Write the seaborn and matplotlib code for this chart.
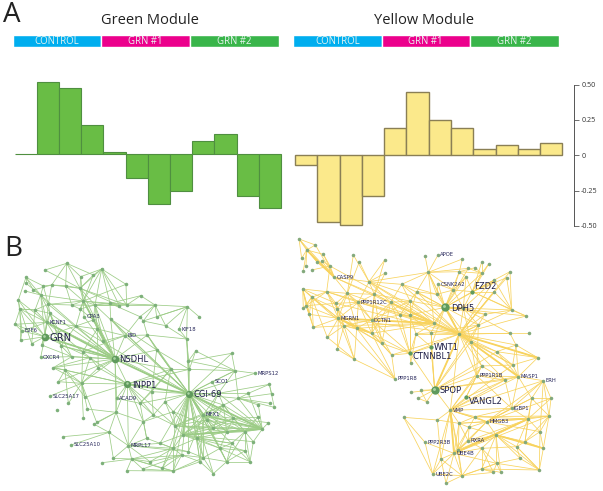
import matplotlib
matplotlib.use("Agg")
import matplotlib.pyplot as plt
import pandas as pd
import seaborn as sns

# --- bar values ---
samples = list(range(12))
green_values = [0.002, 0.507, 0.47, 0.209, 0.014, -0.169, -0.347, -0.256, 0.092, 0.146, -0.291, -0.376]
yellow_values = [-0.068, -0.469, -0.495, -0.286, 0.192, 0.448, 0.246, 0.195, 0.042, 0.073, 0.042, 0.085]

group_names = ["CONTROL", "GRN #1", "GRN #2"]
group_colors = ["#00aeef", "#ec008c", "#39b54a"]
y_ticks = [-0.5, -0.25, 0, 0.25, 0.5]
y_tick_labels = ["-0.50", "-0.25", "0", "0.25", "0.50"]

green_x = [200,135,305,280,242,78,78,130,155,378,240,100,75,55,122,197,250,145,215,285,
           330,358,380,422,465,420,60,105,150,240,252,140,45,228,280,332,430,470,497,562,
           597,537,66,135,62,95,125,183,122,248,292,310,375,442,345,270,215,160,195,295,
           382,245,175,150,255,205,172,262,250,350,348,290,420,455,512,565,568,587,560,470,
           567,695,705,765,637,655,715,745,808,815,810,823,775,610,670,700,773,805,787,525,
           548,640,620,680,735,760,695,735,750,680,640,610,565,520,480,440,545,520,487,450,
           395,340,307,380,428,385,327,213,190,283,495,520,590,660,600,460,430]
green_y = [85,105,102,120,125,127,145,153,150,148,160,165,168,195,180,152,198,208,210,210,
           205,212,210,182,210,245,222,225,235,222,245,262,268,273,255,252,258,245,272,215,
           245,283,288,305,316,326,330,332,367,350,282,318,302,300,372,368,365,398,405,398,
           447,445,440,483,487,505,525,522,548,490,532,562,505,470,403,378,403,348,312,345,
           476,355,407,415,440,475,490,475,448,476,505,517,510,540,510,550,547,563,582,572,
           600,580,555,590,590,620,625,647,680,680,716,668,650,640,625,610,660,708,700,680,
           672,670,683,707,702,632,592,630,605,568,500,530,610,640,680,540,560]
green_links = {
    80: [54,60,75,76,74,84,85,93,94,95,99,100,101,102,103,104,112,113,114,130,131,132,133,111,109,117,110,134,78,79,72,73,82,81,86,87,83,98,35,19,33,31,52,53,116,118],
    54: [43,31,17,10,16,19,34,50,51,52,49,55,56,57,59,60,61,62,53,69,70,35,79,74,30,33,28,47],
    60: [61,59,69,70,72,73,99,64,55,135,136,125,58,57,74,76],
    16: [2,3,4,10,15,18,19,20,21,29,30,33,17,14,9],
    2: [3,4,9,20,21,22,10,19],
    98: [93,94,95,96,97,99,100,101,102,103,104,86,87,92,85,105],
    100: [99,101,102,103,104,93,94,95,105,106,113,114,107,133],
    93: [94,95,101,102,103,104,106,99,111,112,134,109],
    104: [94,95,96,101,102,105,106,107,108,109],
    14: [5,6,7,11,12,17,27,31,43,28,33],
    31: [43,27,28,32,33,42,47,13,26,49],
    43: [17,26,42,44,45,46,48,13,32,55,33],
    10: [0,1,4,8,15,19,21,22,3],
    61: [49,55,57,58,62,63,64,65,67,68,59,71],
    125: [120,121,126,113,112,115,114,70,119],
    120: [118,119,121,122,123,124,116,113,117],
    113: [112,114,115,116,117,118,119,132,99],
    111: [109,110,112,116,132,134,133,117],
    39: [24,40,41,37,38,78,36],
    24: [23,25,36,37,38,22,20],
    76: [75,77,78,74,79,82],
    82: [81,83,84,85,86,77],
    88: [87,89,85,91],
    86: [87,89,90,91,92,94],
    108: [105,106,107,109,133],
    52: [35,53,50,51,49,25],
    74: [53,79,130,73,72],
    126: [127,128,129,121],
    70: [67,71,129,126,69],
    36: [25,53,38],
    5: [6,11,13,7],
    26: [13,32,27,44,45],
    58: [57,47,65,62,64],
    20: [21,22,23,25,35],
}
green_links_2 = {
    19: [20,34,29,50,51,21],
    34: [29,33,50],
    50: [51,59,49,33],
    55: [49,56,57,59],
    56: [47,46,48,57,28],
    85: [84,94,93,102],
    94: [95,101,102,103,99],
    95: [96,97,101,103],
    99: [101,102,103,131,130,135],
    131: [130,101,132,136],
    132: [101,103,106,133,134],
    133: [103,106,107,109],
    134: [116,117,110],
    109: [106,107,110],
    116: [117,118,119,124],
    47: [33,28,49],
    117: [123,124,118],
    136: [70,115,125,135],
    135: [72,73,130],
    72: [69,73,115],
    78: [41,53,75,38],
    79: [53,35,73],
    75: [77,81,82],
    42: [13,32,44],
    27: [26,28,17,45],
    28: [17,46,47],
    17: [18,8,7],
    18: [29,15,21],
    0: [1,3,15,4,8],
    8: [7,15,11],
    22: [23,9,21],
}
green_thick = [(54,80),(43,54),(60,80),(80,100),(80,98),(93,98),(100,98),(16,54),(80,93),(31,54)]
green_hubs = {"GRN": 43, "NSDHL": 54, "INPP1": 60, "CGI-69": 80}
green_hub_sizes = [5.5, 5.5, 5.2, 5.2]
green_hub_dx = [13, 13, 14, 15]
green_hub_dy = [5, 3, 3, 3]
green_minor = {"KCNF1": 31, "OPA3": 30, "E2F6": 42, "BID": 52, "KIF18": 41, "CXCR4": 48,
               "SLC25A17": 63, "ACAD9": 69, "SCO1": 84, "MRPS12": 83, "MFX1": 93,
               "SLC25A10": 127, "MRPL17": 125}

# --- yellow network ---
yellow_x = [27,50,76,100,35,82,95,120,48,40,65,133,190,208,284,285,237,38,65,110,
            172,253,335,380,405,415,444,517,445,508,528,535,555,575,596,575,660,650,613,612,
            547,490,440,465,520,585,665,708,205,302,360,330,138,142,48,40,58,145,245,162,
            70,112,200,245,275,305,360,362,142,193,315,378,423,432,360,508,542,565,423,620,
            660,716,678,668,743,560,575,645,685,760,434,392,362,385,410,528,481,725,783,665,
            555,590,341,442,777,714,750,537,507,618,535,405,680,705,760,492,453,575,620,575,
            632,748,516,428,468,610,690,505]
yellow_y = [12,45,30,58,70,82,78,93,92,108,105,127,60,80,75,115,140,162,187,170,
            175,178,148,170,62,112,60,72,148,110,125,100,98,82,87,115,110,128,135,170,
            170,165,178,217,220,238,225,243,202,202,198,240,205,222,212,220,238,250,255,272,
            277,307,280,295,325,360,355,385,343,373,432,297,293,265,240,297,320,270,335,350,
            295,295,330,390,368,422,393,435,425,437,464,466,472,490,500,487,526,490,490,520,
            545,560,547,555,543,552,590,577,565,600,618,622,635,620,640,655,672,640,685,702,
            712,705,722,717,745,712,670,645]
yellow_links = {
    43: [25,28,29,30,31,22,23,40,41,42,44,45,46,47,73,75,76,77,16,74,50,72,78,35,38],
    75: [44,45,73,74,50,49,48,57,52,16,25,22,23,82,83,84,87,88,85,86,79,80,76,90,96,72,71,77,46,47,36,37,38,39,66,65],
    73: [16,21,48,49,50,51,57,59,62,63,11,7,20,19,74,71,25],
    90: [78,72,76,77,85,86,79,91,92,93,94,66,96,88,87],
    96: [85,86,87,88,89,99,100,101,103,108,115,123,116,122,127,95,83],
    101: [99,100,104,105,106,107,108,109,110,97,98,89,96,115],
    115: [107,108,109,110,116,117,118,122,123,124,127,105,104],
    105: [97,98,99,100,104,106,108,109,110,113,112,127],
    109: [112,113,114,117,118,119,120,121,126,110],
    118: [119,120,121,122,125,126,117],
    122: [117,119,123,124,127,116,125],
    102: [103,123,111],
    111: [123,115],
    57: [17,18,19,20,48,52,53,54,56,58,59,60,61,62,63,64,68,69],
    58: [48,20,21,49,50,59,62,63,64,65,66,51],
    66: [50,51,64,65,63,67,71,74,49],
    70: [63,62,59,65,69],
    11: [0,1,3,5,6,7,16,20,21,2],
    0: [1,4,5,2],
    1: [2,3,5,8,9,4],
    7: [3,6,10,19],
    17: [18,19,54,55,56,60,52],
    19: [20,52,53,48,18],
    16: [12,13,14,15,21,22,25,48,49],
    25: [22,23,24,26,27,29,31,42,41],
    29: [27,30,32,35,41],
    40: [33,34,35,36,37,38,39,41,46,47,30],
    46: [36,37,38,45,47,39],
    80: [81,82,75,44],
    88: [83,84,82,87,89,99],
    89: [97,98,99,104,106],
    99: [97,100,101,87,85],
    114: [106,113,121,104],
    121: [112,126,106],
    94: [93,91],
    69: [59,68,61,62],
    50: [22,23,49,51,74,21],
    78: [72,66,90,71],
    84: [82,83],
}
yellow_links_2 = {
    54: [55,56,60,52,18,19],
    18: [55,56,60,59,53,61],
    53: [52,59,48,20,62],
    59: [60,61,62,63,68],
    62: [63,64,48,20],
    63: [64,65,48,49,21],
    64: [65,49,21],
    21: [20,48,14,15,49],
    20: [48,12,13],
    52: [48,59,20],
    100: [104,107,108],
    107: [108,110,127,109],
    108: [127,103,110],
    110: [127,117],
    117: [119,125],
    119: [120,125,121],
    113: [112,104,97],
    112: [126,117,121],
    97: [98,104,88],
    106: [104,113],
    98: [104],
    103: [116],
    116: [124,123],
    85: [86,87,88,76,77,95],
    86: [87,83,76],
    95: [86,87],
    83: [82,79,76],
    79: [76,82,84,88],
    76: [77,44],
    77: [44,45,72],
    72: [71,74],
    71: [74,67],
    44: [41,30,35,38,45],
    35: [33,34,31,32],
    41: [42,28,30],
    42: [23,28,22],
    49: [22,74,51],
    74: [51,23],
}
yellow_thick = [(43,75),(73,75),(75,84),(75,88),(57,63),(43,44),(57,73),(105,115),(109,114),(1,11),(90,75),(96,115)]
yellow_hubs = {"DPH5": 43, "SPOP": 90, "WNT1": 78, "CTNNBL1": 66, "FZD2": 40, "VANGL2": 95}
yellow_hub_sizes = [6, 6, 3, 3, 3, 3]
yellow_hub_dx = [17, 16, 7, 8, 5, 9]
yellow_hub_dy = [3, 3, 2, 10, -15, 11]
yellow_minor = {"APOE": 26, "CASP9": 11, "CSNK2A2": 28, "PPP1R12C": 48, "MGRN1": 57, "DCTN1": 58,
                "PPP1R8": 70, "PPP1R1B": 85, "MASP1": 88, "ERH": 89, "VMP": 96, "IGBP1": 99,
                "HMGB3": 101, "PPP2R3B": 111, "RXRA": 110, "UBE4B": 115, "UBE2C": 123}

W, H = 603, 491
sns.set_style("white")
plt.rcParams["font.family"] = ["Open Sans", "DejaVu Sans"]
fig = plt.figure(figsize=(W / 100, H / 100), dpi=100)


def px_axes(x0, y0, x1, y1):
    # axes box given in reference pixels, y measured from the top
    ax = fig.add_axes([x0 / W, 1 - y1 / H, (x1 - x0) / W, (y1 - y0) / H])
    ax.patch.set_alpha(0)
    return ax


def strip(x0, x1):
    ax = px_axes(x0, 35, x1, 47)
    sns.barplot(x=group_names, y=[1, 1, 1], hue=group_names, palette=group_colors,
                width=1, saturation=1, legend=False, ax=ax)
    ax.set_ylim(0, 1)
    ax.set_xlim(-0.5, 2.5)
    for i, name in enumerate(group_names):
        ax.text(i, 0.46, name, color="#e8f4f0", fontsize=6.9, ha="center", va="center")
    ax.axis("off")


def bars(values, box, xmax, fill, edge, lw):
    ax = px_axes(*box)
    sns.barplot(x=samples, y=values, width=1, color=fill, edgecolor=edge,
                linewidth=lw, saturation=1, ax=ax)
    ax.set_xlim(-0.5, xmax)
    ax.set_ylim(-0.5, 0.5)
    for p in ax.patches:
        p.set_clip_on(False)
    ax.set_xlabel("")
    ax.set_ylabel("")
    return ax


def edge_frame(pairs, xs, ys):
    rows = []
    for n, (a, b) in enumerate(pairs):
        rows.append({"edge": n, "x": xs[a], "y": ys[a]})
        rows.append({"edge": n, "x": xs[b], "y": ys[b]})
    return pd.DataFrame(rows)


def network(box, xs, ys, link_tables, thick, hubs, hub_sizes, hub_dx, hub_dy, minor, line_color, node_color):
    ax = px_axes(*box)
    pairs = [(a, b) for links in link_tables for a, targets in links.items() for b in targets]
    sns.lineplot(data=edge_frame(pairs, xs, ys), x="x", y="y", units="edge", estimator=None,
                 sort=False, color=line_color, linewidth=0.55, ax=ax)
    sns.lineplot(data=edge_frame(thick, xs, ys), x="x", y="y", units="edge", estimator=None,
                 sort=False, color=line_color, linewidth=1.3, ax=ax)
    nodes = pd.DataFrame({"x": xs, "y": ys})
    sns.scatterplot(data=nodes, x="x", y="y", s=6.5, color=node_color, linewidth=0, zorder=3, ax=ax)
    for (name, i), size, dx, dy in zip(hubs.items(), hub_sizes, hub_dx, hub_dy):
        ax.plot(xs[i], ys[i], "o", ms=size, color="#5f9a5c", mec="none", zorder=4)
        if size > 4:
            ax.plot(xs[i] - 2, ys[i] - 3, "o", ms=size * 0.35, color="#a9d3a2", mec="none", zorder=5)
        fs = 7.2 if name == "GRN" else 6
        ax.text(xs[i] + dx, ys[i] + dy, name, fontsize=fs, color="#1e1e46", family="DejaVu Sans",
                va="center", zorder=6)
    for name, i in minor.items():
        ax.text(xs[i] + 7, ys[i], name, fontsize=3.75, color="#26265a", family="DejaVu Sans",
                va="center", zorder=6)
    ax.set_xlim(0, 870)
    ax.set_ylim(768, 0)
    ax.axis("off")


# --- panel A ---
strip(12.5, 279)
strip(293, 558.5)

ax_g = bars(green_values, (14.7, 83.3, 281, 225.3), 11.5, "#69bd45", "#4f8f40", 0.8)
ax_y = bars(yellow_values, (295, 84.5, 573.5, 226), 12.0, "#fbe98b", "#8a7f55", 1.0)

ax_g.axis("off")
for side in ["left", "bottom", "top"]:
    ax_y.spines[side].set_visible(False)
ax_y.spines["right"].set_visible(True)
ax_y.spines["right"].set_color("#555555")
ax_y.spines["right"].set_linewidth(0.7)
ax_y.yaxis.tick_right()
ax_y.set_yticks(y_ticks)
ax_y.set_yticklabels(y_tick_labels)
ax_y.tick_params(axis="y", length=3.5, width=0.6, color="#555555", labelsize=5.2,
                 labelcolor="#333333", pad=2, right=True)
ax_y.set_xticks([])

fig.text(150 / W, 1 - 20.5 / H, "Green Module", fontsize=10.5, color="#222222", ha="center", va="center")
fig.text(424 / W, 1 - 20.5 / H, "Yellow Module", fontsize=10.5, color="#222222", ha="center", va="center")
fig.text(3.5 / W, 1 - 15.5 / H, "A", fontsize=20, color="#222222", ha="left", va="center")
fig.text(4.5 / W, 1 - 249.5 / H, "B", fontsize=20, color="#222222", ha="left", va="center")

# --- panel B ---
network((0, 235, 290, 491), green_x, green_y, [green_links, green_links_2], green_thick, green_hubs,
        green_hub_sizes, green_hub_dx, green_hub_dy, green_minor, "#9ccc86", "#7db07a")
network((290, 235, 580, 491), yellow_x, yellow_y, [yellow_links, yellow_links_2], yellow_thick, yellow_hubs,
        yellow_hub_sizes, yellow_hub_dx, yellow_hub_dy, yellow_minor, "#f8d35e", "#83a97c")

fig.savefig("out.png", dpi=100)
